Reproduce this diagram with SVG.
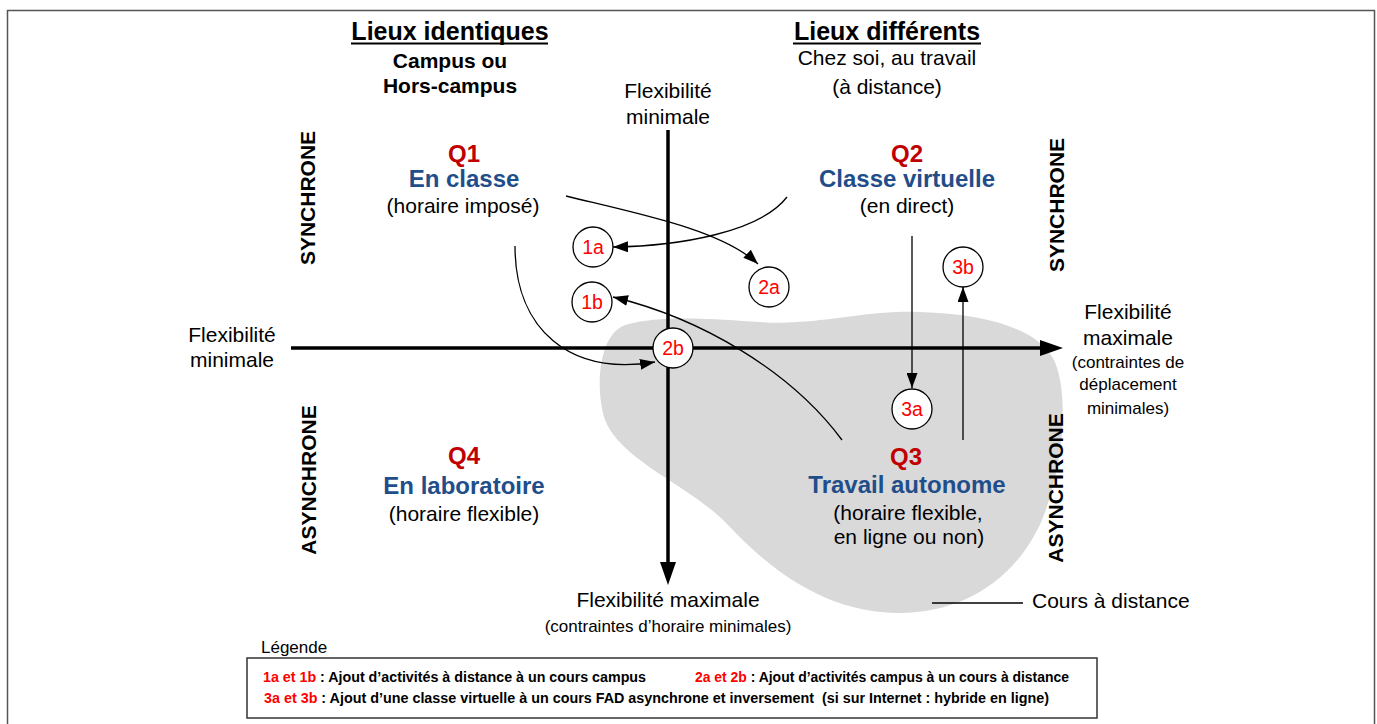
<svg xmlns="http://www.w3.org/2000/svg" width="1377" height="724" viewBox="0 0 1377 724">
<style>
text{font-family:"Liberation Sans",Arial,sans-serif;fill:#000}
.hdr{font-size:25px;font-weight:bold;text-anchor:middle}
.sub{font-size:21px;font-weight:bold;text-anchor:middle}
.reg{font-size:21px;text-anchor:middle}
.sm{font-size:17px;text-anchor:middle}
.q{font-size:24px;font-weight:bold;fill:#c00000;text-anchor:middle}
.t{font-size:24px;font-weight:bold;fill:#1f4e8a;text-anchor:middle}
.side{font-size:21px;font-weight:bold;text-anchor:middle}
.cl{font-size:19.5px;fill:#ff0000;text-anchor:middle}
.lg{font-size:14px;font-weight:bold}
.red{fill:#ff0000}
.axis{stroke:#000;stroke-width:3.5;fill:none}
.con{stroke:#000;stroke-width:1.3;fill:none}
.node circle{fill:#fff;stroke:#000;stroke-width:1.3}
</style>
<defs>
<marker id="ah" markerUnits="userSpaceOnUse" markerWidth="15" markerHeight="11" refX="15" refY="5.5" orient="auto">
<path d="M0,0 L15,5.5 L0,11 Z" fill="#000"/>
</marker>
</defs>
<rect x="7.5" y="10.5" width="1367" height="725" fill="#fff" stroke="#555" stroke-width="1.5"/>

<path id="blob" d="M625,325 C665,314 720,320 760,322 C820,326 860,310 920,312 C990,314 1040,330 1055,362 C1070,400 1062,470 1042,520 C1015,582 960,613 900,613 C830,613 775,575 728,525 C690,485 622,462 605,420 C595,390 598,335 625,325 Z" fill="#d9d9d9"/>

<g id="headers">
<text class="hdr" x="450" y="40">Lieux identiques</text>
<line x1="351" y1="43.5" x2="548" y2="43.5" stroke="#000" stroke-width="2"/>
<text class="sub" x="450" y="68">Campus ou</text>
<text class="sub" x="450" y="93">Hors-campus</text>
<text class="hdr" x="887" y="40">Lieux différents</text>
<line x1="793" y1="43.5" x2="981" y2="43.5" stroke="#000" stroke-width="2"/>
<text class="reg" x="887" y="65">Chez soi, au travail</text>
<text class="reg" x="887" y="94">(à distance)</text>
</g>

<g id="axes">
<line class="axis" x1="291" y1="348" x2="1044" y2="348"/>
<path d="M1040,340 L1063,348 L1040,356 Z" fill="#000"/>
<line class="axis" x1="668" y1="130" x2="668" y2="566"/>
<path d="M660,562 L668,585 L676,562 Z" fill="#000"/>
</g>

<g id="axis-labels">
<text class="reg" x="668" y="98">Flexibilité</text>
<text class="reg" x="668" y="124">minimale</text>
<text class="reg" x="232" y="342">Flexibilité</text>
<text class="reg" x="232" y="367">minimale</text>
<text class="reg" x="1128" y="319">Flexibilité</text>
<text class="reg" x="1128" y="345">maximale</text>
<text class="sm" x="1128" y="368">(contraintes de</text>
<text class="sm" x="1128" y="390">déplacement</text>
<text class="sm" x="1128" y="414">minimales)</text>
<text class="reg" x="668" y="607">Flexibilité maximale</text>
<text class="sm" x="668" y="632">(contraintes d’horaire minimales)</text>
<text class="side" transform="translate(315,198) rotate(-90)">SYNCHRONE</text>
<text class="side" transform="translate(1064,205) rotate(-90)">SYNCHRONE</text>
<text class="side" transform="translate(316,480) rotate(-90)">ASYNCHRONE</text>
<text class="side" transform="translate(1063,488) rotate(-90)">ASYNCHRONE</text>
</g>

<g id="q1">
<text class="q" x="464" y="162">Q1</text>
<text class="t" x="464" y="187">En classe</text>
<text class="reg" x="463" y="213">(horaire imposé)</text>
</g>
<g id="q2">
<text class="q" x="907" y="162">Q2</text>
<text class="t" x="907" y="187">Classe virtuelle</text>
<text class="reg" x="907" y="213">(en direct)</text>
</g>
<g id="q3">
<text class="q" x="906" y="465">Q3</text>
<text class="t" x="907" y="493">Travail autonome</text>
<text class="reg" x="908" y="520">(horaire flexible,</text>
<text class="reg" x="909" y="544">en ligne ou non)</text>
</g>
<g id="q4">
<text class="q" x="464" y="464">Q4</text>
<text class="t" x="464" y="494">En laboratoire</text>
<text class="reg" x="464" y="521">(horaire flexible)</text>
</g>

<g id="connectors">
<path class="con" d="M566,196 C640,214 722,230 758,264" marker-end="url(#ah)"/>
<path class="con" d="M787,197 C760,232 680,246 613,247" marker-end="url(#ah)"/>
<path class="con" d="M515,246 C515,330 570,376 655,362" marker-end="url(#ah)"/>
<path class="con" d="M842,440 C790,370 700,318 613,297" marker-end="url(#ah)"/>
<path class="con" d="M912,236 L912,388" marker-end="url(#ah)"/>
<path class="con" d="M963,440 L963,287" marker-end="url(#ah)"/>
<line x1="932" y1="603" x2="1023" y2="603" stroke="#000" stroke-width="1.5"/>
</g>

<g id="n1a" class="node"><circle cx="593" cy="247" r="20"/><text class="cl" x="593" y="254">1a</text></g>
<g id="n1b" class="node"><circle cx="592" cy="302" r="20"/><text class="cl" x="592" y="309">1b</text></g>
<g id="n2a" class="node"><circle cx="769" cy="287" r="20"/><text class="cl" x="769" y="294">2a</text></g>
<g id="n2b" class="node"><circle cx="673" cy="348" r="20"/><text class="cl" x="673" y="355">2b</text></g>
<g id="n3a" class="node"><circle cx="912" cy="409" r="20"/><text class="cl" x="912" y="416">3a</text></g>
<g id="n3b" class="node"><circle cx="963" cy="267" r="20"/><text class="cl" x="963" y="274">3b</text></g>

<g id="cours-distance">
<text style="font-size:21px" x="1032" y="608">Cours à distance</text>
</g>

<g id="legend">
<text style="font-size:17px" x="261" y="653">Légende</text>
<rect x="247" y="658" width="850" height="60" fill="#fff" stroke="#333" stroke-width="1.5"/>
<text class="lg" x="263" y="682" textLength="383" lengthAdjust="spacingAndGlyphs"><tspan class="red">1a et 1b</tspan> : Ajout d’activités à distance à un cours campus</text>
<text class="lg" x="695" y="682" textLength="374" lengthAdjust="spacingAndGlyphs"><tspan class="red">2a et 2b</tspan> : Ajout d’activités campus à un cours à distance</text>
<text class="lg" x="264" y="703" xml:space="preserve" textLength="785" lengthAdjust="spacingAndGlyphs"><tspan class="red">3a et 3b</tspan> : Ajout d’une classe virtuelle à un cours FAD asynchrone et inversement  (si sur Internet : hybride en ligne)</text>
</g>
</svg>
